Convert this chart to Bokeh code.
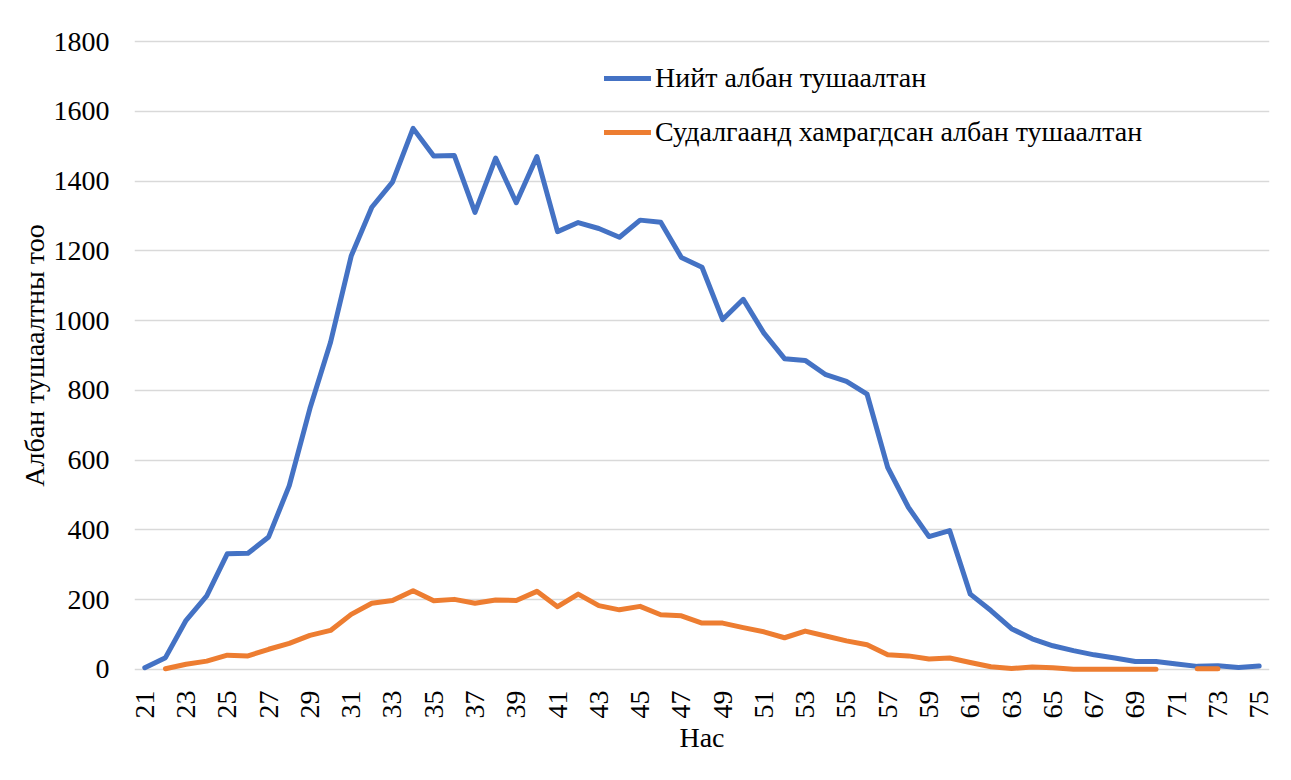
import math
from bokeh.plotting import figure
from bokeh.models import Range1d, FixedTicker, Legend, LegendItem, ColumnDataSource, BoxAnnotation
from bokeh.embed import file_html
from bokeh.resources import INLINE

ages = list(range(21, 76))

total = [5, 34, 141, 211, 332, 333, 380, 527, 748, 938, 1185, 1325, 1397, 1551, 1472, 1473,
         1310, 1466, 1338, 1470, 1255, 1281, 1264, 1239, 1288, 1282, 1181, 1153, 1003, 1061,
         964, 891, 886, 845, 826, 789, 579, 465, 381, 398, 216, 169, 117, 88, 68, 54, 42, 33,
         23, 23, 16, 9, 11, 6, 10]

surveyed = [None, 2, 15, 24, 41, 39, 58, 75, 98, 112, 158, 190, 198, 226, 197, 201,
            190, 199, 198, 224, 180, 216, 183, 171, 181, 157, 154, 133, 133, 120,
            108, 91, 110, 96, 82, 71, 42, 39, 30, 33, 20, 8, 3, 7, 5, 1, 1, 1,
            1, 1, None, 2, 2, None, None]

x_ticks = list(range(21, 76, 2))
y_ticks = list(range(0, 1801, 200))

series_names = ["Нийт албан тушаалтан", "Судалгаанд хамрагдсан албан тушаалтан"]
x_title = "Нас"
y_title = "Албан тушаалтны тоо"

FONT = "Liberation Serif"
FS = "28px"

src = ColumnDataSource(dict(
    age=ages,
    total=total,
    surveyed=[float("nan") if v is None else v for v in surveyed],
))

p = figure(frame_width=1135, frame_height=634,
           x_range=Range1d(20.5, 75.5), y_range=Range1d(-8.6, 1808.6),
           output_backend="svg", toolbar_location=None,
           min_border_left=134, min_border_right=8, min_border_top=38, min_border_bottom=96)
p.outline_line_color = None
p.background_fill_color = "white"
p.border_fill_color = "white"

border = BoxAnnotation(left=8, right=1400, top=10, bottom=900,
                       left_units="canvas", right_units="canvas",
                       top_units="canvas", bottom_units="canvas",
                       fill_alpha=0, line_color="#D9D9D9", line_width=1.3)
p.add_layout(border)

r1 = p.line("age", "total", source=src, line_color="#4472C4", line_width=5,
            line_cap="round", line_join="round")
r2 = p.line("age", "surveyed", source=src, line_color="#ED7D31", line_width=5,
            line_cap="round", line_join="round")

p.xgrid.grid_line_color = None
p.ygrid.grid_line_color = "#D9D9D9"
p.ygrid.grid_line_width = 1.3
p.ygrid.ticker = FixedTicker(ticks=y_ticks)

p.xaxis.ticker = FixedTicker(ticks=x_ticks)
p.yaxis.ticker = FixedTicker(ticks=y_ticks)
for ax in (p.xaxis[0], p.yaxis[0]):
    ax.axis_line_color = None
    ax.major_tick_line_color = None
    ax.minor_tick_line_color = None
    ax.major_tick_out = 0
    ax.major_tick_in = 0
    ax.major_label_text_font = FONT
    ax.major_label_text_font_size = FS
    ax.major_label_text_color = "black"
    ax.axis_label_text_font = FONT
    ax.axis_label_text_font_size = FS
    ax.axis_label_text_font_style = "normal"
    ax.axis_label_text_color = "black"

p.xaxis.major_label_orientation = math.pi / 2
p.xaxis.major_label_standoff = 18
p.xaxis.axis_label = x_title
p.xaxis.axis_label_standoff = 0
p.yaxis.major_label_standoff = 25
p.yaxis.axis_label = y_title
p.yaxis.axis_label_standoff = 1

legend = Legend(items=[LegendItem(label=series_names[0], renderers=[r1]),
                       LegendItem(label=series_names[1], renderers=[r2])],
                location=(470, 524))
legend.label_text_font = FONT
legend.label_text_font_size = FS
legend.label_text_color = "black"
legend.glyph_width = 47
legend.glyph_height = 32
legend.label_height = 32
legend.label_standoff = 4
legend.spacing = 22
legend.padding = 0
legend.margin = 0
legend.border_line_color = None
legend.background_fill_alpha = 0
p.add_layout(legend, "center")

open("out.html", "w").write(file_html(p, INLINE))
